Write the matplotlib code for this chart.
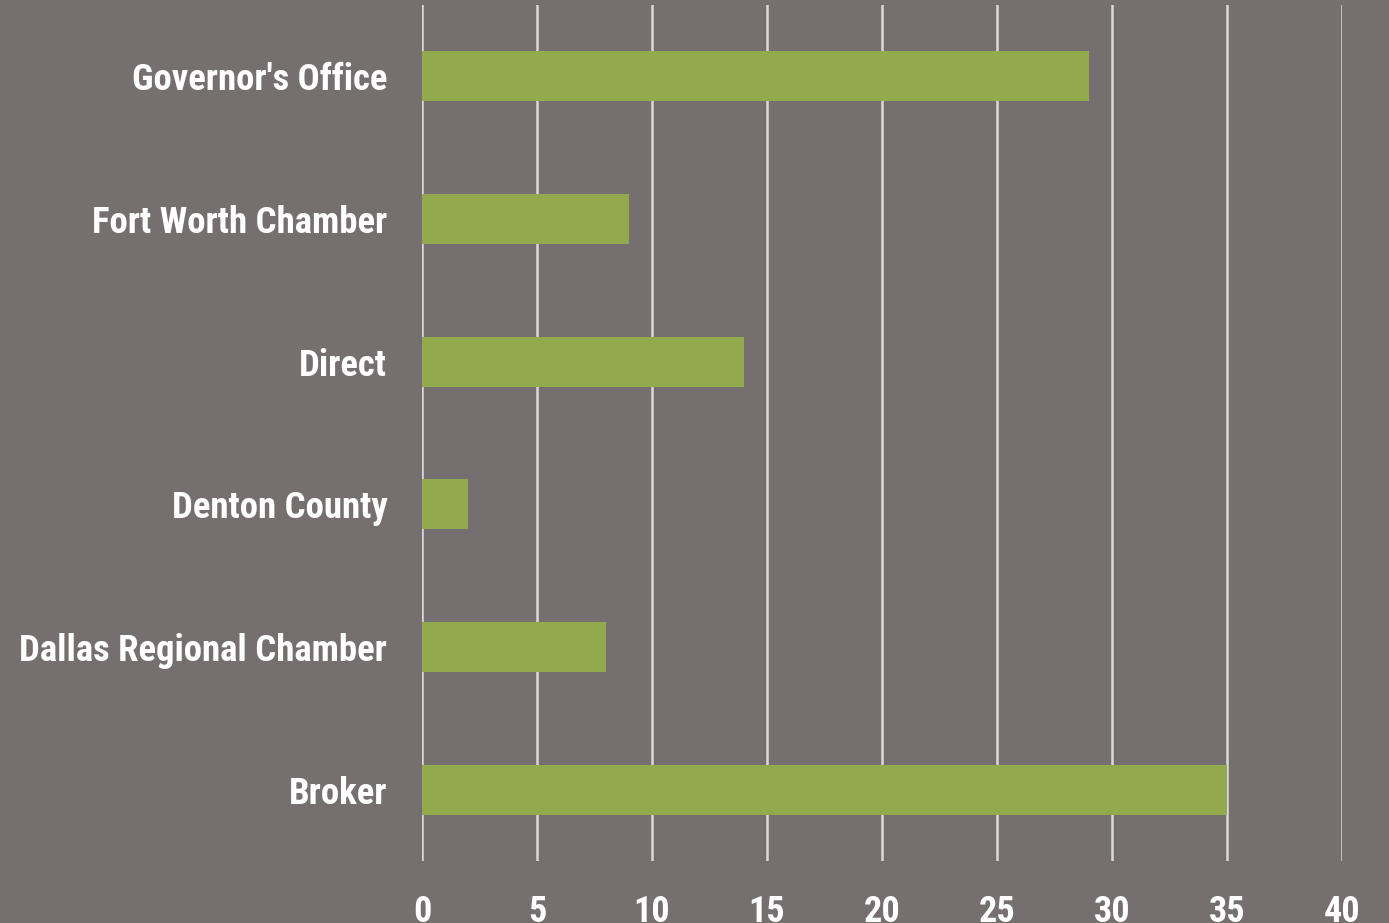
import matplotlib.pyplot as plt
from matplotlib import font_manager

sources = ["Governor's Office", "Fort Worth Chamber", "Direct",
           "Denton County", "Dallas Regional Chamber", "Broker"]
counts = [29, 9, 14, 2, 8, 35]
xticks = [0, 5, 10, 15, 20, 25, 30, 35, 40]

bg = "#75706f"
green = "#92a94d"

names = {f.name for f in font_manager.fontManager.ttflist}
fam = "DejaVu Sans"
for cand in ["Liberation Sans Narrow", "DejaVu Sans Condensed", "Roboto Condensed"]:
    if cand in names:
        fam = cand
        break
plt.rcParams["font.family"] = [fam, "DejaVu Sans"]

fig = plt.figure(figsize=(13.89, 9.23), dpi=100, facecolor=bg)
ax = fig.add_axes([422 / 1389, 1 - 861 / 923, 920 / 1389, 856 / 923])
ax.set_facecolor(bg)

ypos = list(range(len(sources)))
ax.barh(ypos, counts, height=0.35, color=green, zorder=3)
ax.set_ylim(len(sources) - 0.5, -0.5)
ax.set_xlim(0, 40)

ax.set_xticks(xticks)
ax.set_xticklabels([str(t) for t in xticks])
ax.set_yticks(ypos)
ax.set_yticklabels(sources)
ax.xaxis.grid(True, color="#d9d9d9", linewidth=1.8, zorder=0)
ax.tick_params(axis="both", length=0, colors="white")
ax.tick_params(axis="y", labelsize=26.5, pad=25)
ax.tick_params(axis="x", labelsize=26, pad=24)
for lab in ax.get_xticklabels() + ax.get_yticklabels():
    lab.set_fontweight("bold")
for s in ax.spines.values():
    s.set_visible(False)

fig.savefig("out.png", dpi=100, facecolor=bg)
